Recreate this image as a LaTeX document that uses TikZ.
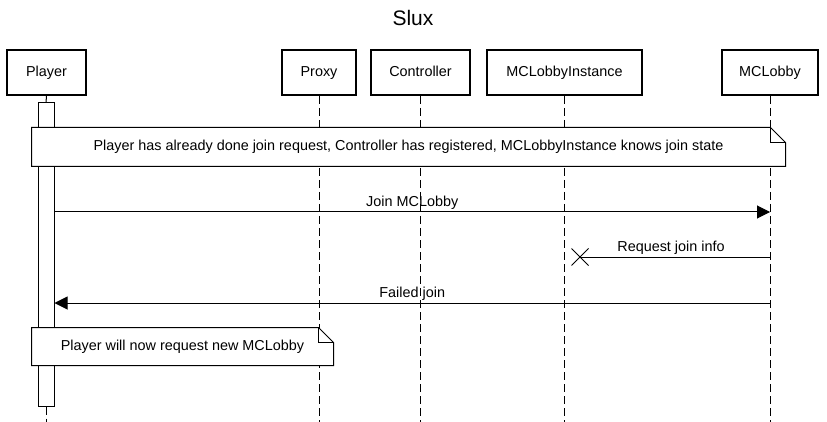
\documentclass[tikz,border=0pt]{standalone}
\usepackage{fontspec}
\setmainfont{Liberation Sans}
\usetikzlibrary{arrows.meta,shapes.misc}

% folded corner of a note
\def\noteFold#1{\draw[notebox] ([xshift=-15pt]#1.north east) -- ([xshift=-15pt,yshift=-15pt]#1.north east) -- ([yshift=-15pt]#1.north east);}

\begin{document}
\begin{tikzpicture}[x=1pt, y=-1pt, line width=1pt,
		actor/.style={draw, line width=2pt, fill=white, minimum height=45pt, inner sep=0pt, text height=10.5pt, text depth=3pt, font=\fontsize{14.4}{17}\selectfont},
		lifeline/.style={dash pattern=on 8pt off 4pt},
		notebox/.style={line width=1pt},
		msg/.style={-{Triangle[length=13pt,width=13pt]}},
		txt/.style={font=\fontsize{14.4}{17}\selectfont, inner sep=3pt}]
		\useasboundingbox (0,0) rectangle (827,422);
		
		% title
		\node[font=\fontsize{21}{24}\selectfont] (title) at (413,18) {Slux};
		
		% participants
		\node[actor, minimum width=79pt] (player) at (46.5,72.5) {Player};
		\node[actor, minimum width=74pt] (proxy) at (319,72.5) {Proxy};
		\node[actor, minimum width=99pt] (controller) at (420.5,72.5) {Controller};
		\node[actor, minimum width=155pt] (instance) at (564.5,72.5) {MCLobbyInstance};
		\node[actor, minimum width=96pt] (mclobby) at (770,72.5) {MCLobby};
		
		% rows
		\coordinate (bottom) at (0,422);
		\coordinate (join) at (0,212);
		\coordinate (info) at (0,257);
		\coordinate (failed) at (0,303);
		
		% lifelines
		\draw[lifeline] (proxy.south) -- (proxy |- bottom);
		\draw[lifeline] (controller.south) -- (controller |- bottom);
		\draw[lifeline] (instance.south) -- (instance |- bottom);
		\draw[lifeline] (mclobby.south) -- (mclobby |- bottom);
		
		% activation of player
		\node[draw, fill=white, minimum width=16pt, minimum height=303pt, inner sep=0pt] (bar) at (46,254.5) {};
		\draw (player.south) -- (bar.north);
		\draw[lifeline] (bar.south) -- (bar |- bottom);
		
		% first note
		\node[txt, fill=white, minimum width=753pt, minimum height=38pt] (note1) at (408.5,147)
			{Player has already done join request, Controller has registered, MCLobbyInstance knows join state};
		\draw[notebox] (note1.north west) -- ([xshift=-15pt]note1.north east) -- ([yshift=-15pt]note1.north east) -- (note1.south east) -- (note1.south west) -- cycle;
		\noteFold{note1}
		
		% messages
		\draw[msg] (bar.east |- join) -- (mclobby |- join) node[txt, midway, above, inner sep=2pt] {Join MCLobby};
		\node[cross out, draw, minimum size=16pt, inner sep=0pt] (lost) at (580,257) {};
		\draw (mclobby |- info) -- (lost.center) node[txt, midway, above, inner sep=2pt, xshift=-4pt] {Request join info};
		\draw[msg] (mclobby |- failed) -- (bar.east |- failed) node[txt, midway, above, inner sep=2pt] {Failed join};
		
		% second note
		\node[txt, fill=white, minimum width=301pt, minimum height=37pt] (note2) at (182.5,346.5)
			{Player will now request new MCLobby};
		\draw[notebox] (note2.north west) -- ([xshift=-15pt]note2.north east) -- ([yshift=-15pt]note2.north east) -- (note2.south east) -- (note2.south west) -- cycle;
		\noteFold{note2}
\end{tikzpicture}
\end{document}
